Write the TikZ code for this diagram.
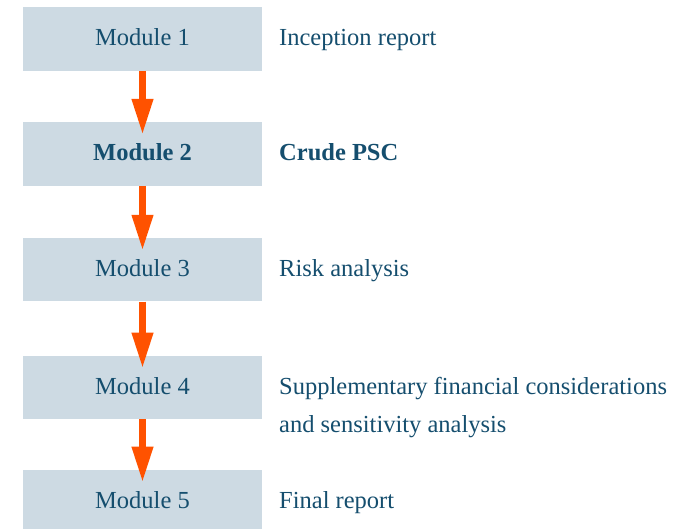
\documentclass[tikz,border=0pt]{standalone}
\usepackage{fontspec}
\setmainfont{Liberation Serif}
\usetikzlibrary{arrows.meta}
\definecolor{txt}{HTML}{154E6E}
\definecolor{boxfill}{HTML}{CDDAE3}
\definecolor{arr}{HTML}{FF5200}
\begin{document}
\begin{tikzpicture}[x=1pt,y=-1pt,
 modbox/.style={fill=boxfill, minimum width=239pt, minimum height=63.5pt, inner sep=0pt,
   text=txt, font=\fontsize{24.5}{30}\selectfont, text height=14pt, text depth=0pt},
 desc/.style={anchor=base west, inner sep=0pt, text=txt, font=\fontsize{24.5}{30}\selectfont},
 flow/.style={draw=arr, line width=7pt, -{Triangle[length=36pt,width=20pt,fill=arr]}, shorten >=-13pt}]
\useasboundingbox (0,0) rectangle (694,528);
\node[modbox] (m1) at (142.5,38.8) {Module 1};
\node[modbox] (m2) at (142.5,153.8) {\bfseries Module 2};
\node[modbox] (m3) at (142.5,269.7) {Module 3};
\node[modbox] (m4) at (142.5,387.5) {Module 4};
\node[modbox] (m5) at (142.5,501.5) {Module 5};
\node[desc] (d1) at (279,45.8) {Inception report};
\node[desc] (d2) at (279,160.8) {\bfseries Crude PSC};
\node[desc] (d3) at (279,276.7) {Risk analysis};
\node[desc] (d4) at (279,394.3) {\vtop{\baselineskip=38.5pt\hbox{Supplementary financial considerations}\hbox{and sensitivity analysis}}};
\node[desc] (d5) at (279,508.5) {Final report};
\draw[flow] (m1.south) -- (m2.north);
\draw[flow] (m2.south) -- (m3.north);
\draw[flow] (m3.south) -- (m4.north);
\draw[flow] (m4.south) -- (m5.north);
\end{tikzpicture}
\end{document}
